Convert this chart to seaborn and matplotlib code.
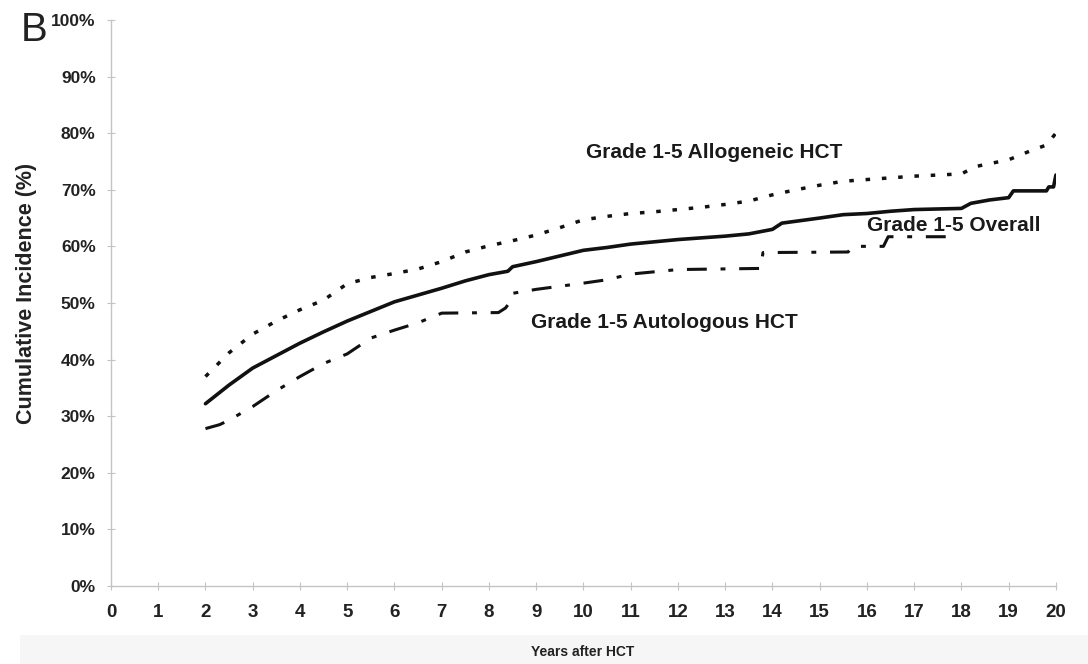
import numpy as np
import pandas as pd
import matplotlib
matplotlib.use("Agg")
import matplotlib.pyplot as plt
from matplotlib.patches import Rectangle
import seaborn as sns

# Cumulative incidence (%) of grade 1-5 outcomes by years after HCT
overall_years = [2.0, 2.5, 3.0, 3.5, 4.0, 4.5, 5.0, 5.5, 6.0, 6.5, 7.0, 7.5, 8.0, 8.4,
                 8.5, 9.0, 9.5, 10.0, 10.5, 11.0, 11.5, 12.0, 12.5, 13.0, 13.5, 14.0,
                 14.2, 15.0, 15.5, 16.0, 16.5, 17.0, 18.0, 18.2, 18.6, 19.0, 19.1,
                 19.8, 19.85, 19.95, 20.0]
overall_pct = [32.2, 35.5, 38.5, 40.7, 42.9, 44.9, 46.8, 48.5, 50.2, 51.4, 52.6, 53.9, 55.0, 55.6,
               56.4, 57.3, 58.3, 59.3, 59.8, 60.4, 60.8, 61.2, 61.5, 61.8, 62.2, 63.0,
               64.1, 65.0, 65.6, 65.8, 66.2, 66.5, 66.7, 67.6, 68.2, 68.6, 69.8,
               69.8, 70.5, 70.5, 72.6]

allo_years = [2.0, 2.5, 3.0, 3.5, 4.0, 4.5, 5.0, 5.5, 6.0, 6.5, 7.0, 7.5, 8.0, 8.5, 9.0,
              9.5, 10.0, 10.5, 11.0, 11.5, 12.0, 12.5, 13.0, 13.5, 14.0, 14.5, 15.0,
              15.5, 16.0, 16.5, 17.0, 17.5, 18.0, 18.3, 19.0, 19.5, 19.8, 20.0]
allo_pct = [37.0, 41.2, 44.5, 46.8, 48.8, 50.5, 53.4, 54.5, 55.2, 56.0, 57.3, 59.0, 60.1, 61.0, 62.0,
            63.3, 64.7, 65.3, 65.8, 66.1, 66.5, 66.9, 67.4, 68.0, 69.1, 70.0, 70.8,
            71.5, 71.8, 72.1, 72.4, 72.6, 72.8, 74.1, 75.3, 77.0, 77.9, 80.0]

auto_years = [2.0, 2.3, 2.5, 3.0, 3.5, 4.0, 4.5, 5.0, 5.5, 6.0, 6.5, 7.0, 8.2, 8.35,
              8.45, 8.5, 9.0, 10.0, 10.5, 11.0, 12.0, 13.75, 13.8, 15.6, 15.7, 16.35,
              16.45, 17.8]
auto_pct = [27.8, 28.5, 29.3, 31.7, 34.5, 37.0, 39.3, 41.0, 43.8, 45.2, 46.5, 48.2, 48.3, 49.1,
            50.2, 51.7, 52.4, 53.5, 54.1, 55.1, 55.9, 56.1, 58.9, 59.0, 60.0, 60.0,
            61.7, 61.7]

series_labels = ["Grade 1-5 Allogeneic HCT", "Grade 1-5 Overall", "Grade 1-5 Autologous HCT"]
x_ticks = list(range(0, 21))
y_ticks = list(range(0, 101, 10))

sns.set_style("white")
plt.rcParams["font.family"] = ["Liberation Sans", "DejaVu Sans"]

fig = plt.figure(figsize=(10.88, 6.64), dpi=100)
# pale band along the bottom edge, behind everything
band = Rectangle((0.018, 0.0), 0.982, 0.044, transform=fig.transFigure,
                 facecolor="#f6f6f6", edgecolor="none", zorder=-10)
fig.patches.append(band)
ax = fig.add_axes([0.102, 0.1175, 0.8685, 0.8525])
ax.set_facecolor("none")

df_overall = pd.DataFrame({"years": overall_years, "pct": overall_pct})
df_allo = pd.DataFrame({"years": allo_years, "pct": allo_pct})
df_auto = pd.DataFrame({"years": auto_years, "pct": auto_pct})

ink = "#111111"
lw = 2.2
sns.lineplot(data=df_allo, x="years", y="pct", ax=ax, color=ink, linewidth=lw + 0.3,
             sort=False, estimator=None)
ax.lines[-1].set_linestyle((0, (1.3, 3.4)))
sns.lineplot(data=df_overall, x="years", y="pct", ax=ax, color=ink, linewidth=lw + 0.4,
             sort=False, estimator=None)
sns.lineplot(data=df_auto, x="years", y="pct", ax=ax, color=ink, linewidth=lw,
             sort=False, estimator=None)
ax.lines[-1].set_linestyle((0, (6.5, 4.5, 1.6, 4.5)))

txt_kw = dict(fontsize=15, fontweight="bold", color="#1a1a1a", va="center", ha="left")
ax.text(10.05, 76.5, series_labels[0], **txt_kw)
ax.text(16.0, 63.6, series_labels[1], **txt_kw)
ax.text(8.89, 46.6, series_labels[2], **txt_kw)

ax.set_xlim(0, 20)
ax.set_ylim(0, 100)
ax.set_xticks(x_ticks)
ax.set_yticks(y_ticks)
ax.set_xticklabels([str(t) for t in x_ticks])
ax.set_yticklabels([f"{t}%" for t in y_ticks])
for lab in ax.get_xticklabels() + ax.get_yticklabels():
    lab.set_fontweight("bold")
    lab.set_color("#222222")
ax.tick_params(axis="x", labelsize=13.5, direction="inout", length=6, width=0.8,
               color="#c4c4c4", pad=10, bottom=True)
ax.tick_params(axis="y", labelsize=12.5, direction="inout", length=6, width=0.8,
               color="#c4c4c4", pad=8, left=True)

for side in ["top", "right"]:
    ax.spines[side].set_visible(False)
for side in ["left", "bottom"]:
    ax.spines[side].set_color("#c4c4c4")
    ax.spines[side].set_linewidth(1.0)

ax.set_xlabel("Years after HCT", fontsize=10, fontweight="bold", color="#222222")
ax.set_ylabel("Cumulative Incidence (%)", fontsize=15.5, fontweight="bold", color="#222222")
ax.xaxis.set_label_coords(0.4995, -0.104)
ax.yaxis.set_label_coords(-0.078, 0.516)
ax.xaxis.label.set_zorder(5)

fig.text(0.019, 0.938, "B", fontsize=29, color="#222222", va="baseline", ha="left")

fig.savefig("out.png", dpi=100)
